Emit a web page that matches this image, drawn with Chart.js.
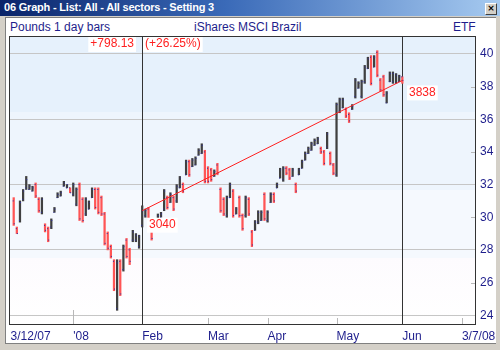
<!DOCTYPE html>
<html>
<head>
<meta charset="utf-8">
<script src="https://cdn.jsdelivr.net/npm/chart.js@4/dist/chart.umd.min.js"></script>
<style>
  body { margin: 0; background: #d4d0c8; }
  #frame { position: relative; width: 500px; height: 350px; overflow: hidden; background: #d4d0c8; }
  #titlebar { position: absolute; left: 0; top: 0; width: 500px; height: 16px;
    background: linear-gradient(to right, #0a246a, #3a6ab8 45%, #a6caf0); }
  #titlebar span { position: absolute; left: 4px; top: 1px; color: #fff; font: bold 11px "Liberation Sans", Arial, sans-serif; letter-spacing: -0.2px; }
  #closebtn { position: absolute; left: 485px; top: 3px; width: 10px; height: 10px; background: #d4d0c8;
    border: 1px solid #fff; border-right-color: #404040; border-bottom-color: #404040;
    font: bold 9px "DejaVu Sans", sans-serif; line-height: 9px; text-align: center; color: #000; }
  #content { position: absolute; left: 5px; top: 17px; width: 490px; height: 325px; background: #fff;
    border-left: 1px solid #808080; border-top: 1px solid #808080; border-bottom: 1px solid #808080; }
  .hdr { position: absolute; top: 20px; font: 12px "Liberation Sans", Arial, sans-serif; color: #1e1e8c; }
  canvas { position: absolute; left: 0; top: 0; }
</style>
</head>
<body>
<div id="frame">
  <div id="titlebar"><span>06 Graph - List: All - All sectors - Setting 3</span><div id="closebtn">×</div></div>
  <div id="content"></div>
  <div class="hdr" style="left:10px">Pounds 1 day bars</div>
  <div class="hdr" style="left:194px">iShares MSCI Brazil</div>
  <div class="hdr" style="left:453px">ETF</div>
  <canvas id="graphChart" width="500" height="350"></canvas>
</div>
<script>
// trading day index 0 = 3 Dec 2007, last bar = 2 Jun 2008
const opens  = [31.0,29.3,29.8,31.1,31.8,31.7,31.6,32.0,31.1,30.3,29.5,29.3,29.4,30.3,31.2,31.3,31.9,31.8,31.8,31.4,
                30.8,32.0,31.1,30.2,30.5,31.2,31.7,31.7,31.2,30.2,29.0,28.2,27.3,24.4,27.3,26.8,28.6,28.0,28.6,28.6,28.2,
                29.5,30.1,30.5,29.2,29.3,29.9,30.0,30.5,31.2,30.9,31.2,31.0,31.8,32.0,32.6,33.4,33.1,33.2,33.8,33.9,
                34.0,33.0,32.9,32.5,33.2,31.7,31.1,30.1,31.2,31.6,30.2,31.2,30.1,30.1,31.1,29.1,29.2,29.7,29.8,31.4,
                29.8,30.9,31.4,31.8,32.4,32.3,33.0,32.9,32.5,32.0,32.6,33.0,33.5,33.9,34.1,34.4,34.5,34.2,34.0,34.3,33.9,33.2,
                32.6,36.5,36.7,36.6,36.3,36.6,37.4,37.9,37.4,38.3,39.1,39.8,39.2,40.1,38.4,38.6,37.0,38.3,38.3,38.2,38.3,38.6];
const highs  = [31.2,29.4,31.0,31.7,32.5,32.0,31.9,32.1,31.2,31.2,29.6,29.4,29.9,30.6,31.5,31.6,32.2,32.0,31.8,32.1,
                31.8,32.1,31.2,31.2,31.0,31.8,31.8,31.8,31.3,30.3,29.1,28.3,27.4,27.4,27.4,28.3,28.7,28.1,29.2,29.0,28.9,
                30.7,30.5,30.6,29.3,29.8,30.2,30.3,31.7,31.3,31.5,31.3,32.0,32.5,32.1,33.5,33.5,33.6,33.7,34.2,34.5,
                34.1,33.1,33.0,32.9,33.3,31.8,31.2,31.3,32.1,31.7,30.6,31.3,30.2,31.3,31.2,29.2,29.8,30.4,30.4,31.5,
                30.4,31.5,31.5,32.1,33.0,33.1,33.1,33.0,33.0,32.1,33.0,33.5,34.0,34.3,34.6,34.8,34.9,34.3,34.1,35.2,34.0,33.3,
                37.0,37.3,37.3,36.7,36.4,36.9,38.5,38.3,38.4,39.3,39.8,39.9,39.9,40.2,38.5,38.7,37.7,38.9,38.9,38.8,38.7,38.6];
const lows   = [29.5,29.0,29.7,31.0,31.7,31.7,31.6,31.2,30.3,30.2,29.1,28.5,29.3,30.3,31.2,31.3,31.9,31.8,31.5,31.3,
                30.7,29.8,29.7,30.1,30.5,31.2,30.5,30.2,30.1,28.3,28.0,27.5,25.5,24.3,25.2,26.7,27.5,27.1,28.5,28.5,28.1,
                29.4,30.0,29.5,28.6,29.3,29.9,30.0,30.4,30.5,30.9,30.4,30.9,31.8,31.5,32.6,32.5,33.1,33.2,33.8,33.9,
                32.1,32.1,32.2,32.5,32.6,30.3,30.1,30.0,31.2,30.0,30.2,30.0,29.2,30.0,30.1,28.2,29.2,29.6,29.8,29.8,
                29.7,30.9,30.9,31.8,32.4,32.2,32.6,32.3,32.5,31.5,32.6,33.0,33.5,33.9,34.1,34.4,34.5,33.9,33.2,34.2,33.2,32.6,
                32.5,36.4,36.7,36.1,35.8,36.6,37.3,37.9,37.3,38.2,39.1,38.1,39.2,38.6,37.7,37.4,37.0,38.3,38.2,38.2,38.3,38.2];
const closes = [29.6,29.0,30.9,31.6,32.3,31.9,31.8,31.3,30.4,31.1,29.2,28.6,29.8,30.5,31.4,31.5,32.1,32.0,31.5,32.0,
                31.7,29.9,29.8,31.1,30.9,31.7,30.6,30.3,30.2,28.4,28.1,27.6,25.6,27.2,25.3,28.2,27.6,27.3,29.1,28.9,28.8,
                30.4,30.4,29.6,28.7,29.7,30.1,30.2,31.6,30.6,31.4,30.5,31.9,32.4,31.6,33.4,32.6,33.5,33.6,34.1,34.4,
                32.2,32.2,32.3,32.8,32.7,30.4,30.2,31.2,32.0,30.1,30.5,30.1,29.3,31.2,30.2,28.3,29.7,30.3,30.3,29.9,
                30.3,31.4,31.0,32.0,32.9,33.0,32.7,32.4,32.9,31.6,32.9,33.4,33.9,34.2,34.5,34.7,34.8,34.0,33.3,35.1,33.3,32.7,
                36.9,37.2,37.2,36.2,35.9,36.8,38.4,38.2,38.3,39.2,39.7,38.2,39.8,38.7,37.8,37.5,37.6,38.8,38.8,38.7,38.6,38.38];

// month ticks along the day index, and the price ticks on the right
const tickDays   = [-1, 19, 41, 62, 81, 103, 124, 143];
const tickLabels = ['3/12/07', "'08", 'Feb', 'Mar', 'Apr', 'May', 'Jun', '3/7/08'];
const priceTicks = [24, 26, 28, 30, 32, 34, 36, 38, 40];

// measured move: Feb -> Jun
const trendX = [41, 124];
const trendY = [30.40, 38.38];
const moveLabels = ['+798.13', '(+26.25%)'];
const endLabels = ['3040', '3838'];

const ctx = document.getElementById('graphChart');
const FONT = '"Liberation Sans", Arial, sans-serif';
const NAVY = '#1e1e8c';

const barColors = closes.map((c, i) => c >= opens[i] ? '#404040' : '#ff5555');

function tag(c, text, x, y, align) {
    c.font = '12px ' + FONT;
    const w = c.measureText(text).width;
    const left = align === 'right' ? x - w : x;
    c.fillStyle = '#ffffff';
    c.fillRect(left - 2, y - 7, w + 4, 15);
    c.fillStyle = '#ff2020';
    c.textAlign = align;
    c.textBaseline = 'middle';
    c.fillText(text, x, y);
}

const decor = {
    id: 'decor',
    beforeDraw(chart) {
        const c = chart.ctx;
        const a = chart.chartArea;
        const g = c.createLinearGradient(0, a.top, 0, a.bottom);
        g.addColorStop(0, '#e6f1fc');
        g.addColorStop(0.263, '#e6f1fc');
        g.addColorStop(0.264, '#eef5fd');
        g.addColorStop(0.532, '#eef5fd');
        g.addColorStop(0.533, '#f5f9fe');
        g.addColorStop(0.767, '#f5f9fe');
        g.addColorStop(0.768, '#fdfbfe');
        g.addColorStop(1, '#ffffff');
        c.save();
        c.fillStyle = g;
        c.fillRect(a.left, a.top, a.right - a.left, a.bottom - a.top);
        c.restore();
    },
    beforeDatasetsDraw(chart) {
        const c = chart.ctx;
        const a = chart.chartArea;
        const xs = chart.scales.x;
        const ys = chart.scales.y;
        c.save();
        c.lineWidth = 1;
        // small tick marks inside the frame
        c.strokeStyle = '#b8b8b8';
        tickDays.forEach((d, i) => {
            if (i === 0) return;
            const x = Math.round(xs.getPixelForValue(d)) + 0.5;
            c.beginPath();
            c.moveTo(x, a.bottom - (i === 1 ? 15 : 7));
            c.lineTo(x, a.bottom);
            c.stroke();
        });
        priceTicks.forEach(v => {
            if (v % 4 === 0) return;
            const y = Math.round(ys.getPixelForValue(v)) + 0.5;
            c.beginPath();
            c.moveTo(a.right - 5, y);
            c.lineTo(a.right, y);
            c.stroke();
        });
        // measure lines
        c.strokeStyle = '#333333';
        trendX.forEach(d => {
            const x = Math.round(xs.getPixelForValue(d)) + 0.5;
            c.beginPath();
            c.moveTo(x, a.top);
            c.lineTo(x, a.bottom);
            c.stroke();
        });
        c.restore();
    },
    afterDatasetsDraw(chart) {
        const c = chart.ctx;
        const a = chart.chartArea;
        const xs = chart.scales.x;
        const ys = chart.scales.y;
        const x0 = Math.round(xs.getPixelForValue(trendX[0]));
        const x1 = Math.round(xs.getPixelForValue(trendX[1]));
        c.save();
        tag(c, moveLabels[0], x0 - 8, a.top + 8, 'right');
        tag(c, moveLabels[1], x0 + 3, a.top + 8, 'left');
        tag(c, endLabels[0], x0 + 7, ys.getPixelForValue(trendY[0]) + 14, 'left');
        tag(c, endLabels[1], x1 + 7, ys.getPixelForValue(trendY[1]) + 12, 'left');
        c.strokeStyle = '#333333';
        c.lineWidth = 1;
        c.strokeRect(a.left + 0.5, a.top + 0.5, a.right - a.left - 1, a.bottom - a.top - 1);
        c.restore();
    }
};

new Chart(ctx, {
    data: {
        datasets: [
            {
                type: 'line',
                data: trendX.map((x, i) => ({ x: x, y: trendY[i] })),
                borderColor: '#ff2020',
                borderWidth: 1,
                pointRadius: 0,
                order: 0,
            },
            {
                type: 'scatter',
                data: opens.map((v, i) => ({ x: i, y: v })),
                pointStyle: 'dash',
                rotation: 180,
                radius: 1,
                borderColor: '#3030a0',
                borderWidth: 1,
                order: 1,
            },
            {
                type: 'scatter',
                data: closes.map((v, i) => ({ x: i, y: v })),
                pointStyle: 'dash',
                radius: 1,
                borderColor: '#3030a0',
                borderWidth: 1,
                order: 1,
            },
            {
                type: 'bar',
                data: highs.map((h, i) => ({ x: i, y: [lows[i], h] })),
                backgroundColor: barColors,
                borderWidth: 0,
                barThickness: 1.6,
                grouped: false,
                order: 2,
            },
        ],
    },
    options: {
        responsive: false,
        animation: false,
        events: [],
        layout: { padding: { left: 9, top: 36, right: 2, bottom: 7 } },
        plugins: { legend: { display: false }, tooltip: { enabled: false } },
        scales: {
            x: {
                type: 'linear',
                offset: false,
                min: -1.5,
                max: 147.5,
                grid: { display: false, drawTicks: false, offset: false },
                border: { display: false },
                afterBuildTicks: (scale) => {
                    scale.ticks = tickDays.map(v => ({ value: v }));
                },
                afterFit: (scale) => {
                    scale.height = 18;
                    scale.paddingLeft = 0;
                    scale.paddingRight = 0;
                },
                ticks: {
                    align: 'start',
                    maxRotation: 0,
                    autoSkip: false,
                    padding: 4,
                    color: NAVY,
                    font: { family: FONT, size: 12 },
                    callback: (value) => tickLabels[tickDays.indexOf(value)],
                },
            },
            y: {
                position: 'right',
                min: 23.4,
                max: 41.1,
                border: { display: false },
                afterBuildTicks: (scale) => {
                    scale.ticks = priceTicks.map(v => ({ value: v }));
                },
                afterFit: (scale) => {
                    scale.width = 22;
                },
                grid: {
                    drawTicks: false,
                    color: (c) => c.tick && c.tick.value % 4 === 0 ? '#c6c6c6' : 'rgba(0,0,0,0)',
                },
                ticks: {
                    padding: 4,
                    color: NAVY,
                    font: { family: FONT, size: 12 },
                },
            },
        },
    },
    plugins: [decor],
});
</script>
</body>
</html>
